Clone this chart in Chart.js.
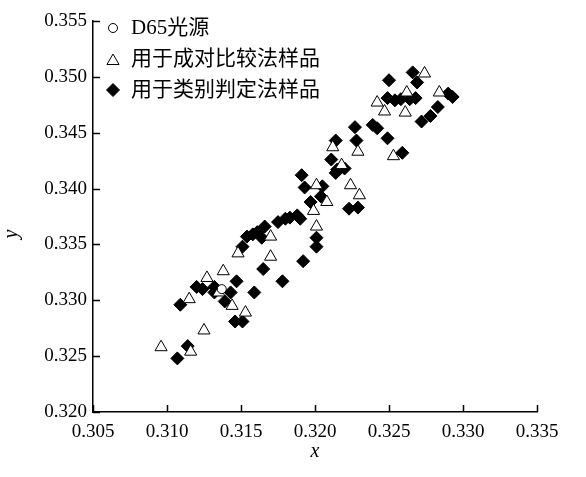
<!DOCTYPE html>
<html>
<head>
<meta charset="utf-8">
<script src="https://cdn.jsdelivr.net/npm/chart.js@4.4.1/dist/chart.umd.min.js"></script>
<style>
  html, body { margin: 0; padding: 0; background: #fff; }
  canvas { display: block; }
</style>
</head>
<body>
<canvas id="myChart" width="586" height="477"></canvas>
<script>
// series names (legend order)
const seriesNames = ['D65光源', '用于成对比较法样品', '用于类别判定法样品'];

// D65 light source
const d65X = [0.3137];
const d65Y = [0.3310];

// samples for paired comparison (open triangles)
const pairX = [0.3096, 0.3116, 0.3125, 0.3115, 0.3127, 0.3138, 0.3135, 0.3144, 0.3153, 0.3148,
               0.3170, 0.3170, 0.3201, 0.3199, 0.3208, 0.3201, 0.3224, 0.3230, 0.3218, 0.3212,
               0.3229, 0.3253, 0.3242, 0.3247, 0.3261, 0.3262, 0.3284, 0.3274];
const pairY = [0.3258, 0.3254, 0.3273, 0.3301, 0.3320, 0.3326, 0.3307, 0.3295, 0.3289, 0.3342,
               0.3339, 0.3357, 0.3366, 0.3380, 0.3388, 0.3403, 0.3403, 0.3394, 0.3421, 0.3437,
               0.3433, 0.3429, 0.3477, 0.3469, 0.3468, 0.3486, 0.3486, 0.3503];

// samples for category judgement (filled diamonds)
const catX = [0.3107, 0.3114, 0.3109, 0.3120, 0.3124, 0.3132, 0.3132, 0.3143, 0.3139, 0.3147,
              0.3159, 0.3165, 0.3178, 0.3146, 0.3151, 0.3151, 0.3154, 0.3158, 0.3161, 0.3164,
              0.3166, 0.3175, 0.3180, 0.3183, 0.3188, 0.3190, 0.3192, 0.3201, 0.3201, 0.3197,
              0.3204, 0.3193, 0.3205, 0.3191, 0.3214, 0.3215, 0.3220, 0.3211, 0.3214, 0.3223,
              0.3229, 0.3228, 0.3227, 0.3239, 0.3242, 0.3249, 0.3259, 0.3249, 0.3254, 0.3258,
              0.3264, 0.3268, 0.3250, 0.3266, 0.3269, 0.3290, 0.3283, 0.3278, 0.3272, 0.3293];
const catY = [0.3248, 0.3259, 0.3296, 0.3312, 0.3310, 0.3312, 0.3307, 0.3307, 0.3299, 0.3317,
              0.3307, 0.3328, 0.3317, 0.3281, 0.3281, 0.3348, 0.3357, 0.3359, 0.3361, 0.3356,
              0.3366, 0.3370, 0.3373, 0.3374, 0.3376, 0.3373, 0.3335, 0.3356, 0.3348, 0.3388,
              0.3393, 0.3401, 0.3402, 0.3412, 0.3414, 0.3417, 0.3418, 0.3426, 0.3443, 0.3382,
              0.3383, 0.3443, 0.3455, 0.3457, 0.3454, 0.3445, 0.3432, 0.3481, 0.3479, 0.3480,
              0.3480, 0.3481, 0.3497, 0.3504, 0.3495, 0.3485, 0.3473, 0.3465, 0.3460, 0.3482];

// axis ticks
const xTicks = [0.305, 0.310, 0.315, 0.320, 0.325, 0.330, 0.335];
const yTicks = [0.320, 0.325, 0.330, 0.335, 0.340, 0.345, 0.350, 0.355];

const toPoints = (xs, ys) => xs.map((x, i) => ({ x: x, y: ys[i] }));

const serif = '"Liberation Serif", "Times New Roman", serif';

// inward tick marks + rotated y title
const tickMarks = {
  id: 'tickMarks',
  afterDraw(chart) {
    const { ctx, chartArea: a, scales } = chart;
    ctx.save();
    ctx.strokeStyle = '#000';
    ctx.lineWidth = 1.5;
    ctx.beginPath();
    xTicks.forEach(v => {
      const px = Math.round(scales.x.getPixelForValue(v)) + 0.5;
      ctx.moveTo(px, a.bottom);
      ctx.lineTo(px, a.bottom - 7);
    });
    yTicks.forEach(v => {
      const py = Math.round(scales.y.getPixelForValue(v)) + 0.5;
      ctx.moveTo(a.left, py);
      ctx.lineTo(a.left + 7, py);
    });
    ctx.stroke();

    ctx.fillStyle = '#000';
    ctx.font = 'italic 20px ' + serif;
    ctx.textAlign = 'center';
    ctx.textBaseline = 'middle';
    ctx.translate(12, 234);
    ctx.rotate(-Math.PI / 2);
    ctx.fillText('y', 0, 0);
    ctx.restore();
  }
};

// legend inside the plot, top-left
const insideLegend = {
  id: 'insideLegend',
  afterDraw(chart) {
    const { ctx, chartArea: a } = chart;
    ctx.save();
    ctx.font = '21px "Liberation Serif", "Noto Sans CJK SC"';
    ctx.textBaseline = 'middle';
    seriesNames.forEach((name, i) => {
      const ds = chart.data.datasets[i];
      const x = a.left + 20;
      const y = a.top + 7 + i * 31;
      ctx.fillStyle = ds.pointBackgroundColor;
      ctx.strokeStyle = ds.pointBorderColor;
      ctx.lineWidth = ds.pointBorderWidth;
      Chart.helpers.drawPoint(ctx, {
        pointStyle: ds.pointStyle,
        radius: ds.pointRadius,
        rotation: 0,
        borderWidth: ds.pointBorderWidth
      }, x, ds.pointStyle === 'triangle' ? y + 2 : y);
      ctx.fillStyle = '#000';
      ctx.fillText(name, a.left + 38, y);
    });
    ctx.restore();
  }
};

const ctx = document.getElementById('myChart').getContext('2d');
const myChart = new Chart(ctx, {
  type: 'scatter',
  data: {
    datasets: [{
      label: seriesNames[0],
      data: toPoints(d65X, d65Y),
      pointStyle: 'circle',
      pointRadius: 4.5,
      pointBackgroundColor: '#fff',
      pointBorderColor: '#000',
      pointBorderWidth: 1,
      order: 0
    }, {
      label: seriesNames[1],
      data: toPoints(pairX, pairY),
      pointStyle: 'triangle',
      pointRadius: 7,
      pointBackgroundColor: '#fff',
      pointBorderColor: '#000',
      pointBorderWidth: 1,
      order: 1
    }, {
      label: seriesNames[2],
      data: toPoints(catX, catY),
      pointStyle: 'rectRot',
      pointRadius: 6.5,
      pointBackgroundColor: '#000',
      pointBorderColor: '#000',
      pointBorderWidth: 1,
      order: 2
    }]
  },
  options: {
    responsive: false,
    animation: false,
    layout: { padding: { top: 21, right: 49, bottom: 0, left: 0 } },
    plugins: {
      legend: { display: false },
      tooltip: { enabled: false }
    },
    scales: {
      x: {
        type: 'linear',
        position: 'bottom',
        min: 0.305,
        max: 0.335,
        grid: { drawOnChartArea: false, drawTicks: false },
        border: { color: '#000', width: 1.5 },
        afterBuildTicks: s => { s.ticks = xTicks.map(v => ({ value: v })); },
        afterFit: s => { s.height = 65; },
        ticks: {
          color: '#000',
          font: { family: serif, size: 19 },
          padding: 9,
          maxRotation: 0,
          callback: v => v.toFixed(3)
        },
        title: {
          display: true,
          text: 'x',
          color: '#000',
          font: { family: serif, size: 20, style: 'italic' },
          padding: { top: 0, bottom: 13 }
        }
      },
      y: {
        type: 'linear',
        min: 0.320,
        max: 0.355,
        grid: { drawOnChartArea: false, drawTicks: false },
        border: { color: '#000', width: 1.5 },
        afterBuildTicks: s => { s.ticks = yTicks.map(v => ({ value: v })); },
        afterFit: s => { s.width = 93; },
        ticks: {
          color: '#000',
          font: { family: serif, size: 19 },
          padding: 6,
          callback: v => v.toFixed(3)
        }
      }
    }
  },
  plugins: [tickMarks, insideLegend]
});
</script>
</body>
</html>
